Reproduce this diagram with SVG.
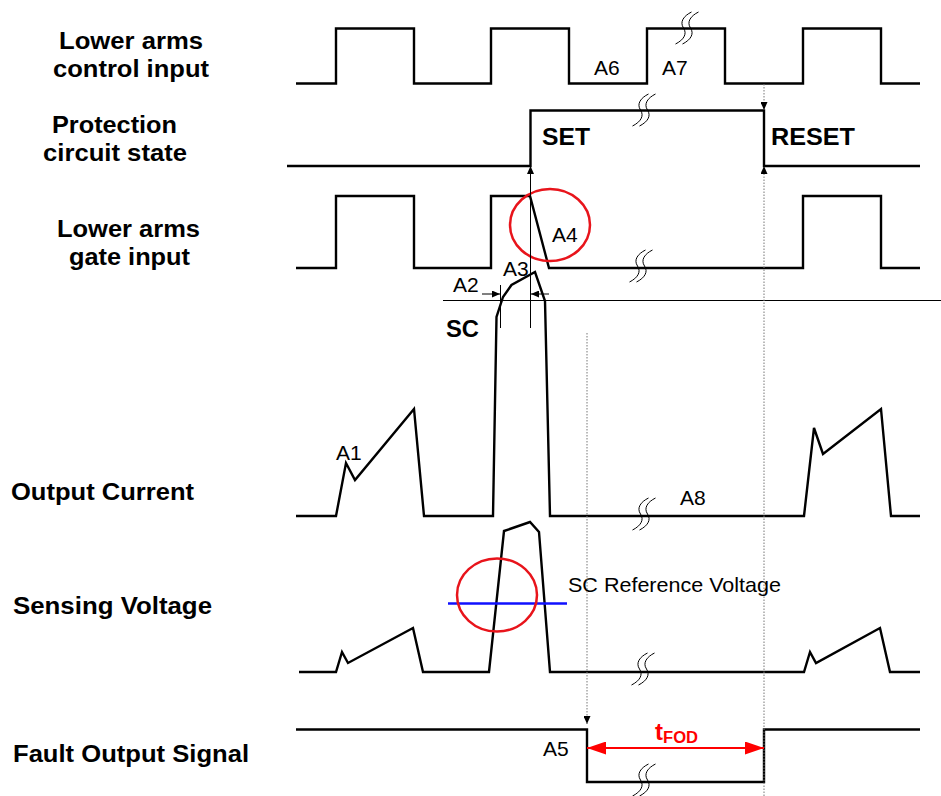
<svg xmlns="http://www.w3.org/2000/svg" xmlns:xlink="http://www.w3.org/1999/xlink" width="941" height="796" viewBox="0 0 941 796">
<style>
.wave{fill:none;stroke:#000;stroke-width:2.4;stroke-linejoin:miter}
.thin{fill:none;stroke:#000;stroke-width:1}
.dot{fill:none;stroke:#777;stroke-width:1;stroke-dasharray:1.5 1.5}
.brk{fill:none;stroke:#000;stroke-width:1}
.lbl{font-family:"Liberation Sans",Arial,sans-serif;font-weight:bold;font-size:23px;fill:#000}
.sm{font-family:"Liberation Sans",Arial,sans-serif;font-size:21px;fill:#000}
.red{fill:none;stroke:#e8141b;stroke-width:2.5}
</style>
<defs>
<marker id="ah" markerUnits="userSpaceOnUse" markerWidth="8" markerHeight="7" refX="8" refY="3.5" orient="auto">
<path d="M0,0 L8,3.5 L0,7 z" fill="#000"/>
</marker>
<marker id="rh" markerUnits="userSpaceOnUse" markerWidth="19" markerHeight="13" refX="19" refY="6.5" orient="auto">
<path d="M0,0 L19,6.5 L0,13 z" fill="#ff0000"/>
</marker>
<g id="brk">
<path class="brk" d="M-12.5,16 C-4.5,12 -0.5,6 -4.5,0 C-8.5,-6 -4.5,-12 3.5,-16"/>
<path class="brk" d="M-5.5,16 C2.5,12 6.5,6 2.5,0 C-1.5,-6 2.5,-12 10.5,-16"/>
</g>
</defs>
<rect width="941" height="796" fill="#fff"/>

<g id="control-input">
<text class="lbl" x="59" y="49" textLength="144" lengthAdjust="spacingAndGlyphs">Lower arms</text>
<text class="lbl" x="53" y="77" textLength="156" lengthAdjust="spacingAndGlyphs">control input</text>
<path class="wave" d="M296,83.5 H336 V28.5 H414 V83.5 H491 V28.5 H569 V83.5 H647 V28.5 H725 V83.5 H803 V28.5 H881 V83.5 H920"/>
<use xlink:href="#brk" x="688" y="28"/>
<text class="sm" x="594" y="75">A6</text>
<text class="sm" x="662" y="75">A7</text>
</g>

<g id="protection-state">
<text class="lbl" x="52" y="133" textLength="125" lengthAdjust="spacingAndGlyphs">Protection</text>
<text class="lbl" x="43" y="161" textLength="144" lengthAdjust="spacingAndGlyphs">circuit state</text>
<path class="wave" d="M287,166 H530.5 V110.5 H764 V166 H920"/>
<use xlink:href="#brk" x="645" y="110"/>
<text class="lbl" x="542" y="145" textLength="48" lengthAdjust="spacingAndGlyphs">SET</text>
<text class="lbl" x="771" y="145" textLength="84" lengthAdjust="spacingAndGlyphs">RESET</text>
</g>

<g id="gate-input">
<text class="lbl" x="57" y="237" textLength="143" lengthAdjust="spacingAndGlyphs">Lower arms</text>
<text class="lbl" x="69" y="265" textLength="121" lengthAdjust="spacingAndGlyphs">gate input</text>
<path class="wave" d="M296,268 H336 V196 H414 V268 H491 V196 H530 L549,268 H803 V196 H881 V268 H920"/>
<use xlink:href="#brk" x="642" y="266"/>
<ellipse class="red" cx="550" cy="225" rx="40" ry="36"/>
<text class="sm" x="552" y="242">A4</text>
</g>

<g id="output-current">
<text class="lbl" x="11" y="500" textLength="183" lengthAdjust="spacingAndGlyphs">Output Current</text>
<path class="wave" d="M296,516 H336 L346,463 L355,480 L414,409 L424,516 H493 L496.5,317 L503,297 L511.5,285 L535,272 L545,301 L550,516 H804 L814,428 L823,454 L881,409 L891,516 H920"/>
<use xlink:href="#brk" x="645" y="514"/>
<line class="thin" x1="443" y1="300.5" x2="941" y2="300.5"/>
<text class="lbl" x="446" y="337" textLength="33" lengthAdjust="spacingAndGlyphs">SC</text>
<text class="sm" x="453" y="292">A2</text>
<text class="sm" x="503" y="276">A3</text>
<text class="sm" x="336" y="460">A1</text>
<text class="sm" x="680" y="505">A8</text>
</g>

<g id="sensing-voltage">
<text class="lbl" x="13" y="614" textLength="199" lengthAdjust="spacingAndGlyphs">Sensing Voltage</text>
<path class="wave" d="M299,672 H336 L342,652 L348,663 L413,628 L423,672 H489 L504,531 L530,522 L539,532 L550,672 H804 L810,652 L816,663 L880,628 L890,672 H920"/>
<use xlink:href="#brk" x="644" y="669"/>
<line x1="448" y1="603.5" x2="567" y2="603.5" stroke="#1010ff" stroke-width="2.5"/>
<ellipse class="red" cx="497" cy="595" rx="40" ry="36.5"/>
<text class="sm" x="568" y="592" textLength="213" lengthAdjust="spacingAndGlyphs">SC Reference Voltage</text>
</g>

<g id="fault-output">
<text class="lbl" x="13" y="762" textLength="236" lengthAdjust="spacingAndGlyphs">Fault Output Signal</text>
<path class="wave" d="M296,729.5 H587 V782 H764 V729.5 H920"/>
<use xlink:href="#brk" x="645" y="780"/>
<text class="sm" x="543" y="756">A5</text>
<text x="655" y="740" font-family="Liberation Sans,Arial,sans-serif" font-weight="bold" font-size="24" fill="#ff0000">t<tspan font-size="16" dy="3" textLength="35" lengthAdjust="spacingAndGlyphs">FOD</tspan></text>
</g>

<g id="connectors">
<line class="dot" x1="764" y1="84" x2="764" y2="110" marker-end="url(#ah)"/>
<line class="thin" x1="530.5" y1="328" x2="530.5" y2="166" marker-end="url(#ah)"/>
<line class="dot" x1="764" y1="796" x2="764" y2="166" marker-end="url(#ah)"/>
<line class="dot" x1="587" y1="333" x2="587" y2="724" marker-end="url(#ah)"/>
<line class="thin" x1="500.5" y1="285" x2="500.5" y2="328"/>
<line class="thin" x1="482" y1="294" x2="500" y2="294" marker-end="url(#ah)"/>
<line class="thin" x1="549" y1="294" x2="531" y2="294" marker-end="url(#ah)"/>
<line x1="595" y1="748" x2="755" y2="748" stroke="#ff0000" stroke-width="2"/>
<line x1="600" y1="748" x2="587" y2="748" stroke="#ff0000" stroke-width="2" marker-end="url(#rh)"/>
<line x1="750" y1="748" x2="764" y2="748" stroke="#ff0000" stroke-width="2" marker-end="url(#rh)"/>
</g>
</svg>
